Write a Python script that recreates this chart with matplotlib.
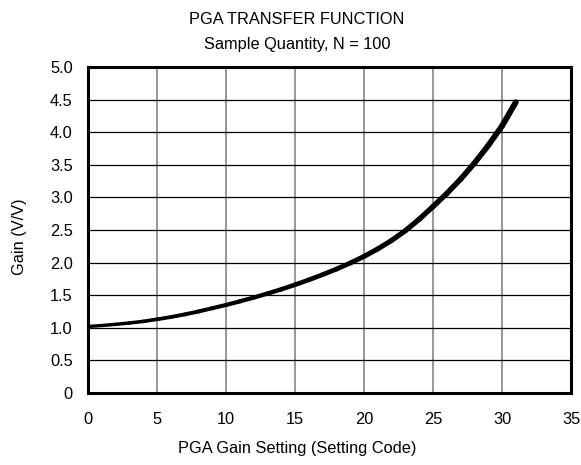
import matplotlib
matplotlib.use("Agg")
import matplotlib.pyplot as plt
import numpy as np
from matplotlib.collections import LineCollection

# Data
codes = list(range(0, 32))
gain = [1.02, 1.035, 1.053, 1.074, 1.098, 1.13, 1.165, 1.205, 1.25, 1.30,
        1.35, 1.405, 1.463, 1.525, 1.59, 1.66, 1.735, 1.815, 1.90, 1.993,
        2.095, 2.21, 2.34, 2.49, 2.665, 2.86, 3.06, 3.28, 3.525, 3.795,
        4.095, 4.46]
x_ticks = [0, 5, 10, 15, 20, 25, 30, 35]
x_tick_labels = ["0", "5", "10", "15", "20", "25", "30", "35"]
y_ticks = [0, 0.5, 1.0, 1.5, 2.0, 2.5, 3.0, 3.5, 4.0, 4.5, 5.0]
y_tick_labels = ["0", "0.5", "1.0", "1.5", "2.0", "2.5", "3.0", "3.5", "4.0", "4.5", "5.0"]

plt.rcParams['font.family'] = ['Liberation Sans', 'DejaVu Sans']
FS = 11.8

fig = plt.figure(figsize=(5.81, 4.65), dpi=100)
W, H = 581, 465
left, right, top, bottom = 88, 571, 67, 393
ax = fig.add_axes([left / W, 1 - bottom / H, (right - left) / W, (bottom - top) / H])

ax.set_xlim(0, 35)
ax.set_ylim(0, 5)
ax.set_xticks(x_ticks)
ax.set_xticklabels(x_tick_labels)
ax.set_yticks(y_ticks)
ax.set_yticklabels(y_tick_labels)
ax.tick_params(axis='both', length=0, labelsize=FS, colors='black')
ax.tick_params(axis='x', pad=14)
ax.tick_params(axis='y', pad=11)

# grid: vertical gray, horizontal black
for xv in x_ticks[1:-1]:
    ax.axvline(xv, color='#7a7a7a', lw=1.1, zorder=1)
for yv in y_ticks[1:-1]:
    ax.axhline(yv, color='black', lw=0.9, zorder=1)

for s in ax.spines.values():
    s.set_linewidth(2.2)
    s.set_color('black')
    s.set_zorder(5)

# curve with width growing slightly along its length (spread of samples)
pts = np.column_stack([codes, gain])
segs = np.stack([pts[:-1], pts[1:]], axis=1)
widths = np.linspace(2.4, 4.2, len(segs))
lc = LineCollection(segs, linewidths=widths, colors='black', capstyle='round',
                    joinstyle='round', zorder=3)
ax.add_collection(lc)

fig.text(297 / W, 1 - 19 / H, "PGA TRANSFER FUNCTION", ha='center', va='center', fontsize=FS)
fig.text(297 / W, 1 - 44 / H, "Sample Quantity, N = 100", ha='center', va='center', fontsize=FS)
fig.text(297 / W, 1 - 448 / H, "PGA Gain Setting (Setting Code)", ha='center', va='center', fontsize=FS)
fig.text(20 / W, 1 - 237 / H, "Gain (V/V)", ha='center', va='center', rotation=90, fontsize=FS)

fig.savefig("out.png", dpi=100)
